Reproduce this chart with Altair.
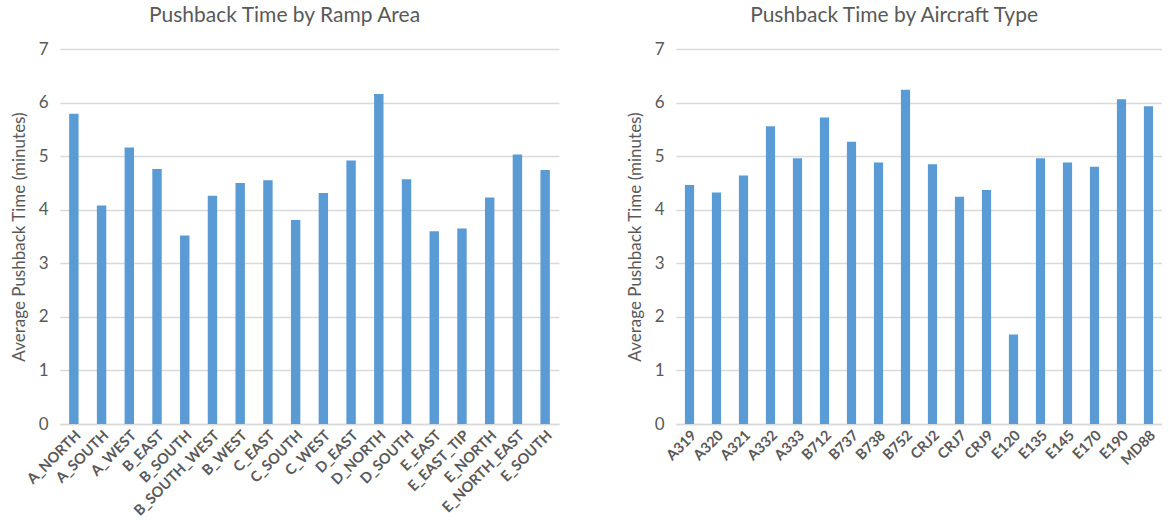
import altair as alt
import pandas as pd

# Average pushback time (minutes) by ramp area
ramp_areas = ["A_NORTH", "A_SOUTH", "A_WEST", "B_EAST", "B_SOUTH", "B_SOUTH_WEST",
              "B_WEST", "C_EAST", "C_SOUTH", "C_WEST", "D_EAST", "D_NORTH",
              "D_SOUTH", "E_EAST", "E_EAST_TIP", "E_NORTH", "E_NORTH_EAST", "E_SOUTH"]
ramp_times = [5.79, 4.08, 5.16, 4.76, 3.52, 4.26, 4.50, 4.55, 3.81, 4.31, 4.92, 6.16,
              4.57, 3.60, 3.65, 4.23, 5.03, 4.74]

# Average pushback time (minutes) by aircraft type
aircraft_types = ["A319", "A320", "A321", "A332", "A333", "B712", "B737", "B738", "B752",
                  "CRJ2", "CRJ7", "CRJ9", "E120", "E135", "E145", "E170", "E190", "MD88"]
aircraft_times = [4.46, 4.32, 4.64, 5.56, 4.96, 5.72, 5.27, 4.88, 6.24, 4.85, 4.24, 4.37,
                  1.67, 4.96, 4.88, 4.80, 6.06, 5.93]

y_ticks = [0, 1, 2, 3, 4, 5, 6, 7]

FONT = "Lato"
TEXT = "#595959"
GRID = "#D9D9D9"
BAR = "#5B9BD5"

ramp_df = pd.DataFrame({"cat": ramp_areas, "val": ramp_times})
type_df = pd.DataFrame({"cat": aircraft_types, "val": aircraft_times})


def panel(df, title, width):
    return alt.Chart(df, title=alt.TitleParams(
        title, fontSize=21, font=FONT, color=TEXT, fontWeight="normal",
        anchor="middle", frame="bounds", offset=14)).mark_bar(color=BAR).encode(
        x=alt.X("cat:N", sort=None, title=None,
                scale=alt.Scale(paddingInner=0.66, paddingOuter=0.33),
                axis=alt.Axis(labelAngle=-45, labelFontSize=14.5, labelFont=FONT,
                              labelColor=TEXT, labelFontWeight="bold", ticks=False,
                              grid=False, domainColor=GRID, domainWidth=1.5,
                              labelPadding=4)),
        y=alt.Y("val:Q", title="Average Pushback Time (minutes)",
                scale=alt.Scale(domain=[0, 7], nice=False),
                axis=alt.Axis(values=y_ticks, labelOverlap=False,
                              labelFontSize=17, labelFont=FONT, labelColor=TEXT,
                              titleFontSize=17, titleFont=FONT, titleColor=TEXT,
                              titleFontWeight="normal", ticks=False, domain=False,
                              gridColor=GRID, gridWidth=1.5, labelPadding=12,
                              titlePadding=10)),
    ).properties(width=width, height=375)


chart = alt.hconcat(
    panel(ramp_df, "Pushback Time by Ramp Area", 499),
    panel(type_df, "Pushback Time by Aircraft Type", 486),
    spacing=67,
).properties(
    background="white",
    padding={"left": 10, "top": 5, "right": 0, "bottom": 0},
).configure_view(stroke="transparent", strokeWidth=0)

chart.save("out.html", embed_options={"renderer": "svg", "actions": False})
